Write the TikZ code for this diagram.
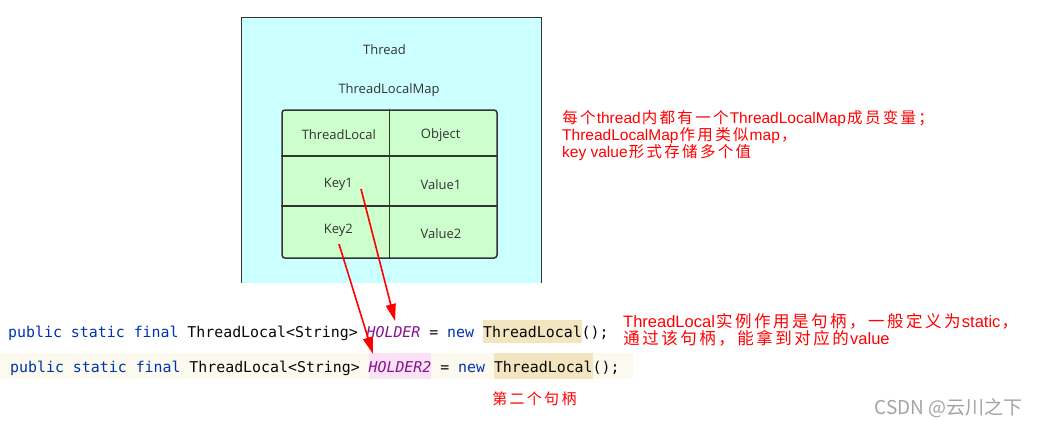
\documentclass[tikz,border=0pt]{standalone}
\usepackage{fontspec}
\setmainfont{Liberation Sans}
\newfontfamily\cjkfont{Noto Sans CJK SC}
\newfontfamily\codefont{DejaVu Sans Mono}
\newfontfamily\diafont{Open Sans}
\usetikzlibrary{arrows.meta}
\definecolor{threadfill}{HTML}{CCFFFF}
\definecolor{mapfill}{HTML}{CCFFCC}
\definecolor{darkline}{HTML}{333333}
\definecolor{kw}{HTML}{0033B3}
\definecolor{fld}{HTML}{871094}
\definecolor{codetxt}{HTML}{080808}
\definecolor{tlhl}{HTML}{F2E5BF}
\definecolor{pinkhl}{HTML}{F9E2F3}
\definecolor{linebg}{HTML}{FCFAEE}
\definecolor{notered}{HTML}{FF0000}
\definecolor{wm}{HTML}{A3A3A3}
\makeatletter
\newcommand\cjs[2]{\@tfor\cjkch:=#2\do{\makebox[#1][c]{\cjkfont\cjkch}}}
\makeatother
\begin{document}
\begin{tikzpicture}[x=1pt,y=-1pt,
  dia/.style={font=\diafont\fontsize{13}{15}\selectfont, text=darkline, inner sep=0},
  code/.style={font=\codefont\fontsize{14.9}{18}\selectfont, inner sep=0, anchor=base west, text=codetxt},
  kwd/.style={code, text=kw},
  fieldtxt/.style={code, text=fld, font=\codefont\itshape\fontsize{14.9}{18}\selectfont},
  hlone/.style={code, fill=tlhl, text height=17pt, text depth=6pt},
  hltwo/.style={code, fill=tlhl, text height=19pt, text depth=7pt},
  notea/.style={text=notered, inner sep=0, anchor=base west, font=\fontsize{15.5}{18}\selectfont},
  noteb/.style={text=notered, inner sep=0, anchor=base west, font=\fontsize{16.5}{19}\selectfont},
  redarrow/.style={draw=notered, line width=1.6pt, -{Triangle[length=17pt,width=10pt]}}
]
\useasboundingbox (0,0) rectangle (1038,426);
\fill[white] (0,0) rectangle (1038,426);

% Thread box
\node[fill=threadfill, minimum width=299pt, minimum height=265pt, inner sep=0] (thread) at (391.5,150.5) {};
\draw[darkline, line width=0.8pt] (thread.south west) -- (thread.north west) -- (thread.north east) -- (thread.south east);
\node[dia] (threadlbl) at (384.5,50) {Thread};
\node[dia] (maplbl) at (389,90) {ThreadLocalMap};

% map table
\node[draw=darkline, fill=mapfill, line width=1.5pt, rounded corners=3pt, minimum width=215pt, minimum height=148pt, inner sep=0] (map) at (389.5,184) {};
\draw[darkline, line width=1.5pt] (map.north) -- (map.south);
\draw[darkline, line width=1.5pt] (map.west |- 0,156) -- (map.east |- 0,156);
\draw[darkline, line width=1.5pt] (map.west |- 0,206) -- (map.east |- 0,206);
\node[dia] (hk) at (338.8,135) {ThreadLocal};
\node[dia] (hv) at (440.7,135) {Object};
\node[dia] (k1) at (338.3,184.3) {Key1};
\node[dia] (v1) at (441,185) {Value1};
\node[dia] (k2) at (338.3,230.7) {Key2};
\node[dia] (v2) at (441,233.3) {Value2};

% code line 1
\node[kwd] (l1a) at (8,337) {public static final};
\node[code] (l1b) at (187.2,337) {ThreadLocal<String>};
\node[fieldtxt] (h1) at (366.4,337) {HOLDER};
\node[code] (l1c) at (429.1,337) {=};
\node[kwd] (l1d) at (447.0,337) {new};
\node[hlone] (tl1) at (482.9,337) {ThreadLocal};
\node[code] (l1e) at (581.4,337) {();};

% code line 2
\fill[linebg] (0,353) rectangle (633,379);
\node[kwd] (l2a) at (10,372) {public static final};
\node[code] (l2b) at (189.2,372) {ThreadLocal<String>};
\node[fieldtxt, fill=pinkhl, text height=19pt, text depth=7pt] (h2) at (368.4,372) {HOLDER2};
\node[code] (l2c) at (440.1,372) {=};
\node[kwd] (l2d) at (458,372) {new};
\node[hltwo] (tl2) at (493.8,372) {ThreadLocal};
\node[code] (l2e) at (592.4,372) {();};

% arrows
\coordinate (k1s) at (361,189);
\coordinate (tip1) at (395,321);
\coordinate (k2s) at (339,244);
\coordinate (tip2) at (373,354);
\draw[redarrow] (k1s) -- (tip1);
\draw[redarrow] (k2s) -- (tip2);

% notes
\node[notea] (n1a) at (561,123) {\cjs{17.8pt}{每个}thread\cjs{17.8pt}{内都有一个}ThreadLocalMap\cjs{17.8pt}{成员变量；}};
\node[notea] (n1b) at (562,140) {ThreadLocalMap\cjs{17.8pt}{作用类似}map\cjs{17.8pt}{，}};
\node[notea] (n1c) at (562,157) {key value\cjs{17.8pt}{形式存储多个值}};
\node[noteb] (n2a) at (623,327) {ThreadLocal\cjs{19pt}{实例作用是句柄，一般定义为}static\cjs{19pt}{，}};
\node[noteb] (n2b) at (622,344.5) {\cjs{19pt}{通过该句柄，能拿到对应的}value};
\node[notea, font=\fontsize{15}{18}\selectfont] (n3) at (491,404) {\cjs{17.3pt}{第二个句柄}};

% watermark
\node[anchor=base east, text=wm, font=\cjkfont\fontsize{19}{22}\selectfont, inner sep=0] (wmark) at (1023,414) {CSDN @云川之下};
\end{tikzpicture}
\end{document}
